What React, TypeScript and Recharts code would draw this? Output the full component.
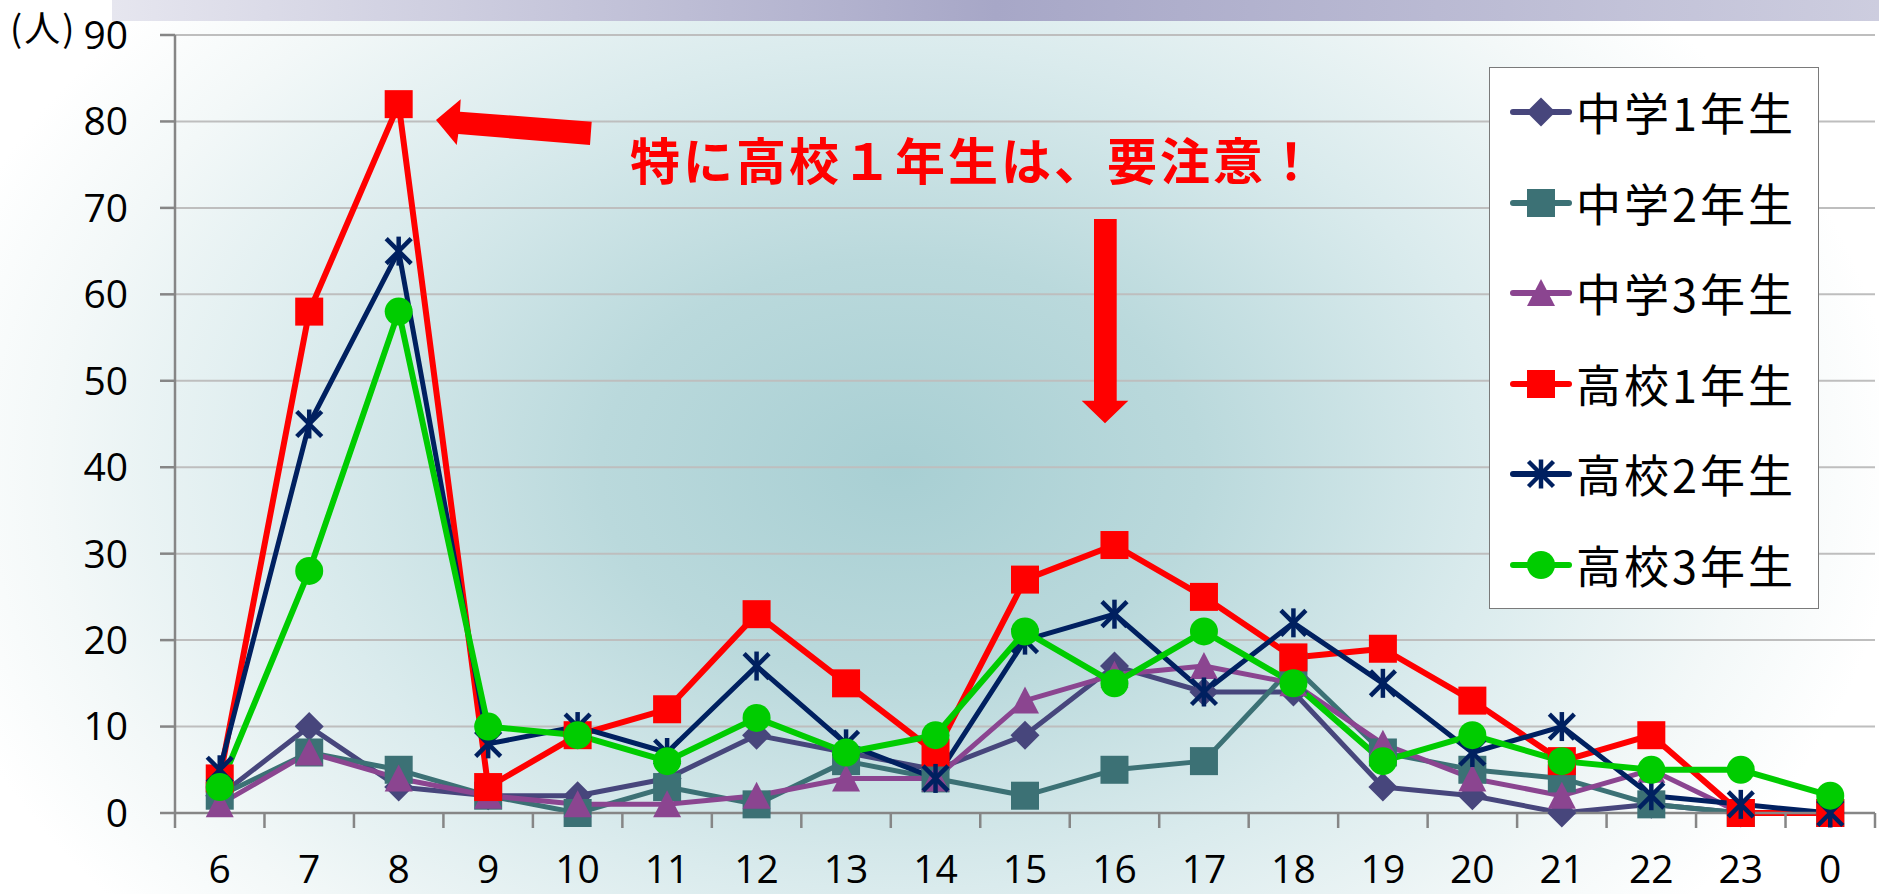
import React from 'react';
import { LineChart, Line, XAxis, YAxis, CartesianGrid, Legend } from 'recharts';

const hours = ['6', '7', '8', '9', '10', '11', '12', '13', '14', '15', '16', '17', '18', '19', '20', '21', '22', '23', '0'];
const chu1 = [2, 10, 3, 2, 2, 4, 9, 7, 5, 9, 17, 14, 14, 3, 2, 0, 1, 0, 0];
const chu2 = [2, 7, 5, 2, 0, 3, 1, 6, 4, 2, 5, 6, 17, 7, 5, 4, 1, 0, 0];
const chu3 = [1, 7, 4, 2, 1, 1, 2, 4, 4, 13, 16, 17, 15, 8, 4, 2, 5, 0, 0];
const kou1 = [4, 58, 82, 3, 9, 12, 23, 15, 7, 27, 31, 25, 18, 19, 13, 6, 9, 0, 0];
const kou2 = [5, 45, 65, 8, 10, 7, 17, 8, 4, 20, 23, 14, 22, 15, 7, 10, 2, 1, 0];
const kou3 = [3, 28, 58, 10, 9, 6, 11, 7, 9, 21, 15, 21, 15, 6, 9, 6, 5, 5, 2];
const yTicks = [0, 10, 20, 30, 40, 50, 60, 70, 80, 90];
const seriesNames = ['中学1年生', '中学2年生', '中学3年生', '高校1年生', '高校2年生', '高校3年生'];
const unitLabel = '(人)';
const noteText = '特に高校１年生は、要注意！';

const data = hours.map((h, i) => ({
  hour: h,
  chu1: chu1[i],
  chu2: chu2[i],
  chu3: chu3[i],
  kou1: kou1[i],
  kou2: kou2[i],
  kou3: kou3[i],
}));

type Shape = 'diamond' | 'square' | 'triangle' | 'star' | 'circle';

const series: { key: string; name: string; color: string; shape: Shape; width: number }[] = [
  { key: 'chu1', name: seriesNames[0], color: '#47467C', shape: 'diamond', width: 5 },
  { key: 'chu2', name: seriesNames[1], color: '#3C7175', shape: 'square', width: 5 },
  { key: 'chu3', name: seriesNames[2], color: '#8B4590', shape: 'triangle', width: 5 },
  { key: 'kou1', name: seriesNames[3], color: '#FF0000', shape: 'square', width: 6 },
  { key: 'kou2', name: seriesNames[4], color: '#002060', shape: 'star', width: 5 },
  { key: 'kou3', name: seriesNames[5], color: '#00CC00', shape: 'circle', width: 6 },
];

function Marker({ shape, cx, cy, color }: { shape: Shape; cx: number; cy: number; color: string }) {
  switch (shape) {
    case 'diamond':
      return <polygon points={`${cx},${cy - 14.5} ${cx + 14.5},${cy} ${cx},${cy + 14.5} ${cx - 14.5},${cy}`} fill={color} />;
    case 'square':
      return <rect x={cx - 14} y={cy - 14} width={28} height={28} fill={color} />;
    case 'triangle':
      return <polygon points={`${cx},${cy - 14} ${cx + 14},${cy + 13} ${cx - 14},${cy + 13}`} fill={color} />;
    case 'star': {
      const r = 12.5;
      return (
        <g stroke={color} strokeWidth={4.5} strokeLinecap="butt">
          <line x1={cx - r} y1={cy - r} x2={cx + r} y2={cy + r} />
          <line x1={cx - r} y1={cy + r} x2={cx + r} y2={cy - r} />
          <line x1={cx} y1={cy - r - 2} x2={cx} y2={cy + r + 2} />
        </g>
      );
    }
    case 'circle':
    default:
      return <circle cx={cx} cy={cy} r={14} fill={color} />;
  }
}

const makeDot = (shape: Shape, color: string) => (props: any) => {
  const { cx, cy, index } = props;
  if (cx == null || cy == null) return <g key={`d-${index}`} />;
  return (
    <g key={`d-${shape}-${color}-${index}`}>
      <Marker shape={shape} cx={cx} cy={cy} color={color} />
    </g>
  );
};

const CHART_W = 1879;
const CHART_H = 894;
const MARGIN = { top: 35, right: 4, left: 0, bottom: 0 };
const Y_AXIS_W = 175;
const X_AXIS_H = 81;
const TICK_SIZE = 15;
const TICK_MARGIN = 27;
const TICK_FONT = "'Open Sans', 'Liberation Sans', sans-serif";
const PLOT_W = CHART_W - MARGIN.left - MARGIN.right - Y_AXIS_W;

const XTick = (props: any) => {
  const { x, y, payload, index } = props;
  const half = payload && payload.offset ? payload.offset : PLOT_W / hours.length / 2;
  const axisY = y - TICK_MARGIN - TICK_SIZE;
  const isLast = index === hours.length - 1;
  return (
    <g>
      <line x1={x - half} x2={x - half} y1={axisY} y2={axisY + TICK_SIZE} stroke="#868686" strokeWidth={2.5} />
      {isLast && <line x1={x + half} x2={x + half} y1={axisY} y2={axisY + TICK_SIZE} stroke="#868686" strokeWidth={2.5} />}
      <text x={x} y={y} dy="0.71em" textAnchor="middle" fill="#000" fontSize={39} fontFamily={TICK_FONT}>
        {payload.value}
      </text>
    </g>
  );
};

const LegendBox = () => (
  <div
    style={{
      width: 330,
      height: 542,
      boxSizing: 'border-box',
      border: '1.5px solid #7a7a7a',
      background: '#ffffff',
      position: 'relative',
    }}
  >
    {series.map((s, i) => (
      <div
        key={s.key}
        style={{
          position: 'absolute',
          left: 0,
          top: 44 + i * 90.5 - 30,
          height: 60,
          display: 'flex',
          alignItems: 'center',
          whiteSpace: 'nowrap',
        }}
      >
        <svg width={86} height={60} style={{ display: 'block' }}>
          <line x1={23} x2={79} y1={30} y2={30} stroke={s.color} strokeWidth={6} strokeLinecap="round" />
          <Marker shape={s.shape} cx={51} cy={30} color={s.color} />
        </svg>
        <span
          style={{
            fontFamily: "'Noto Sans CJK JP', sans-serif",
            fontSize: 45,
            letterSpacing: 3,
            color: '#000',
            lineHeight: '60px',
          }}
        >
          {s.name}
        </span>
      </div>
    ))}
  </div>
);

export default function App() {
  return (
    <div style={{ position: 'absolute', left: 0, top: 0, width: CHART_W, height: CHART_H, overflow: 'hidden' }}>
      <svg width={CHART_W} height={CHART_H} style={{ position: 'absolute', left: 0, top: 0 }}>
        <defs>
          <radialGradient
            id="bg"
            gradientUnits="userSpaceOnUse"
            cx={900}
            cy={470}
            r={1000}
            gradientTransform="translate(900 470) scale(1 0.7) translate(-900 -470)"
          >
            <stop offset="0" stopColor="#a8cfd3" />
            <stop offset="0.3" stopColor="#bad9dc" />
            <stop offset="0.6" stopColor="#daebed" />
            <stop offset="0.85" stopColor="#f3f8f8" />
            <stop offset="1" stopColor="#ffffff" />
          </radialGradient>
          <linearGradient id="bar" x1="0" x2="1" y1="0" y2="0">
            <stop offset="0" stopColor="#e6e6ef" />
            <stop offset="0.5" stopColor="#a7a7c7" />
            <stop offset="1" stopColor="#cdcddf" />
          </linearGradient>
        </defs>
        <rect x={0} y={0} width={CHART_W} height={CHART_H} fill="url(#bg)" />
        <rect x={112} y={0} width={1767} height={21} fill="url(#bar)" />
      </svg>
      <div style={{ position: 'absolute', left: 0, top: 0 }}>
        <LineChart width={CHART_W} height={CHART_H} data={data} margin={MARGIN}>
          <CartesianGrid vertical={false} stroke="#BEBEBE" strokeWidth={2} />
          <XAxis
            dataKey="hour"
            scale="band"
            interval={0}
            height={X_AXIS_H}
            tickSize={TICK_SIZE}
            tickMargin={TICK_MARGIN}
            tickLine={{ stroke: 'none' }}
            axisLine={{ stroke: '#868686', strokeWidth: 2.5 }}
            tick={<XTick />}
          />
          <YAxis
            width={Y_AXIS_W}
            domain={[0, 90]}
            ticks={yTicks}
            interval={0}
            tickSize={TICK_SIZE}
            tickMargin={32}
            axisLine={{ stroke: '#868686', strokeWidth: 2.5 }}
            tickLine={{ stroke: '#868686', strokeWidth: 2.5 }}
            tick={{ fill: '#000', fontSize: 39, fontFamily: TICK_FONT }}
          />
          <Legend
            layout="vertical"
            align="center"
            verticalAlign="middle"
            wrapperStyle={{ left: 1489, top: 67, width: 330, height: 542 }}
            content={() => <LegendBox />}
          />
          {series.map((s) => (
            <Line
              key={s.key}
              type="linear"
              dataKey={s.key}
              name={s.name}
              stroke={s.color}
              strokeWidth={s.width}
              strokeLinejoin="round"
              dot={makeDot(s.shape, s.color)}
              activeDot={false}
              isAnimationActive={false}
            />
          ))}
        </LineChart>
      </div>
      <svg width={CHART_W} height={CHART_H} style={{ position: 'absolute', left: 0, top: 0, pointerEvents: 'none' }}>
        <text x={10} y={26} dominantBaseline="central" fontSize={36} fontFamily="'Noto Sans CJK JP', sans-serif" fill="#000" letterSpacing={2}>
          {unitLabel}
        </text>
        <polygon
          points="436,120 460.7,99.3 460,111.7 591.7,121.7 590,145 458.3,134 456.7,145"
          fill="#FF0000"
        />
        <polygon
          points="1094,219 1116.7,219 1116.7,400.7 1128.3,400.7 1105,423.3 1081.7,400.7 1094,400.7"
          fill="#FF0000"
        />
        <text
          x={630}
          y={158}
          dominantBaseline="central"
          fontSize={50}
          fontWeight="bold"
          letterSpacing={3}
          fontFamily="'Noto Sans CJK JP', sans-serif"
          fill="#FF0000"
        >
          {noteText}
        </text>
      </svg>
    </div>
  );
}
